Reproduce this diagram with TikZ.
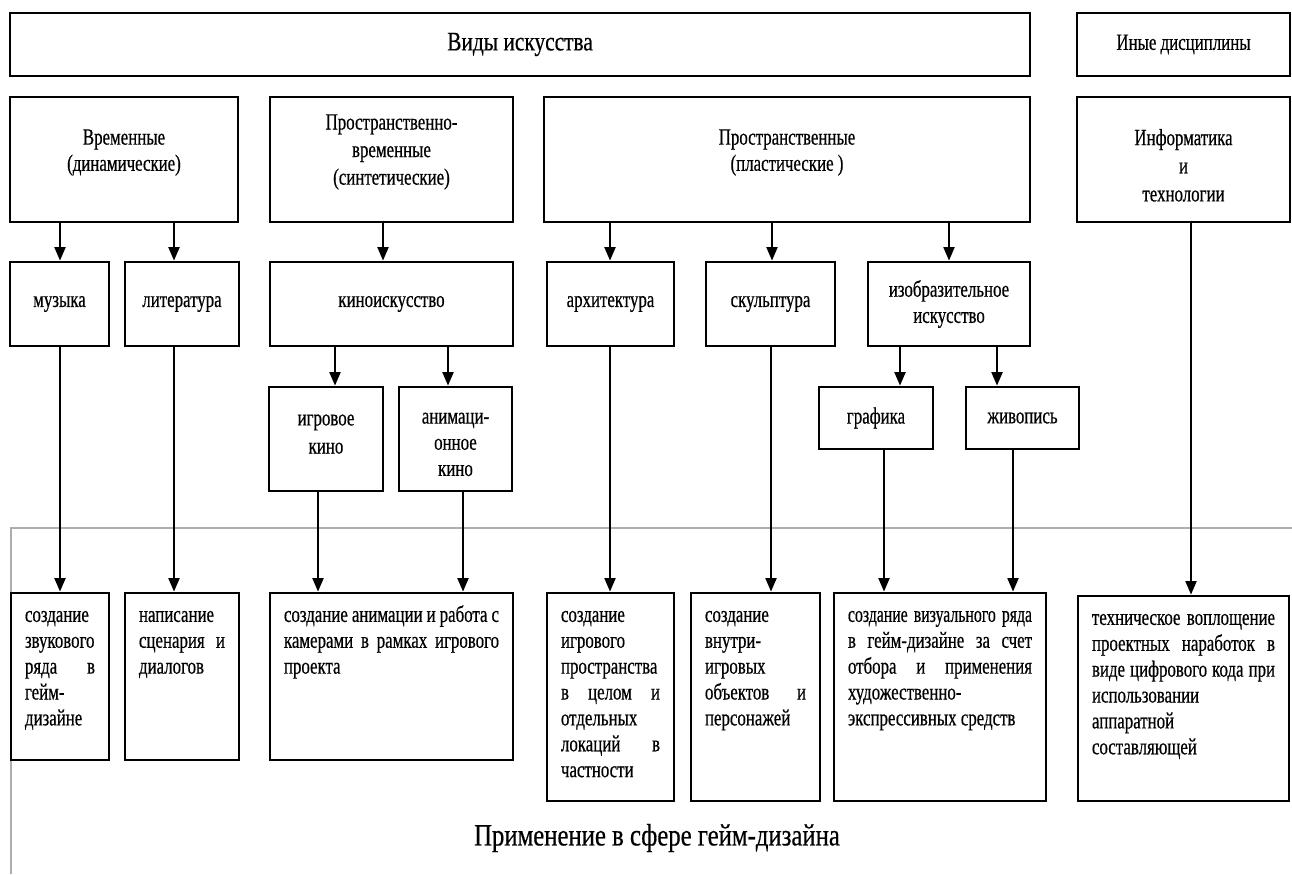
\documentclass[tikz,border=0pt]{standalone}
\usepackage{fontspec}
\setmainfont{Liberation Serif}[FakeStretch=0.727, FakeBold=0.5]
\newfontfamily\headfont{Liberation Serif}[FakeStretch=0.8, FakeBold=0.5]
\usepackage{tikz}
\usetikzlibrary{arrows.meta}

% text of the lower boxes: width, height, text
\newcommand{\apptext}[3]{\parbox[t][#2][t]{#1}{\strut #3}}

\begin{document}
\begin{tikzpicture}[x=0.025cm, y=-0.025cm,
    blk/.style={draw, line width=1.8pt, align=center, inner sep=0pt, font=\fontsize{16.5}{18.6}\selectfont},
    appbox/.style={draw, line width=1.8pt, inner xsep=0.35cm, inner ysep=0.27cm, font=\fontsize{16.5}{18.4}\selectfont},
    arr/.style={line width=1.8pt, -{Triangle[length=3.4mm, width=2.7mm]}}]
    \useasboundingbox (0,0) rectangle (1292,874);

    % Frame of the lower part
    \draw[black!32, line width=0.9pt] (1292,528) -- (11,528) -- (11,874);

    % Top row
    \node[blk, minimum width=25.5cm, minimum height=1.575cm, font=\headfont\fontsize{19}{22}\selectfont] (vid) at (520,44.5) {Виды искусства};
    \node[blk, minimum width=5.325cm, minimum height=1.575cm] (inye) at (1183.5,44.5) {Иные дисциплины};

    % Groups of arts
    \node[blk, minimum width=5.7cm, minimum height=3.125cm, text depth=0.47cm] (vrem) at (124,159.5) {Временные\\(динамические)};
    \node[blk, minimum width=6.075cm, minimum height=3.125cm, text depth=0.5cm, font=\fontsize{16.5}{19.6}\selectfont] (prvr) at (391.5,159.5) {Пространственно-\\временные\\(синтетические)};
    \node[blk, minimum width=12.15cm, minimum height=3.125cm, text depth=0.47cm] (prost) at (787,159.5) {Пространственные\\(пластические )};
    \node[blk, minimum width=5.325cm, minimum height=3.125cm, text height=2.1cm, font=\fontsize{16.5}{20}\selectfont] (inf) at (1183.5,159.5) {Информатика\\и\\технологии};

    % Kinds of art
    \node[blk, minimum width=2.475cm, minimum height=2.1cm] (muz) at (59.5,304) {музыка};
    \node[blk, minimum width=2.85cm, minimum height=2.1cm] (lit) at (182,304) {литература};
    \node[blk, minimum width=6.075cm, minimum height=2.1cm] (kino) at (391.5,304) {киноискусство};
    \node[blk, minimum width=3.175cm, minimum height=2.1cm] (arch) at (610.5,304) {архитектура};
    \node[blk, minimum width=3.225cm, minimum height=2.1cm] (skul) at (770.5,304) {скульптура};
    \node[blk, minimum width=4.05cm, minimum height=2.1cm] (izo) at (949,304) {изобразительное\\искусство};

    % Sub-kinds
    \node[blk, minimum width=2.85cm, minimum height=2.6cm, text depth=0.25cm, font=\fontsize{16.5}{20}\selectfont] (igr) at (326,439) {игровое\\кино};
    \node[blk, minimum width=2.825cm, minimum height=2.6cm, text height=1.85cm] (anim) at (455.5,439) {анимаци-\\онное\\кино};
    \node[blk, minimum width=2.85cm, minimum height=1.55cm] (graf) at (876,418) {графика};
    \node[blk, minimum width=2.825cm, minimum height=1.55cm] (zhiv) at (1022.5,418) {живопись};

    % Application in game design
    \node[appbox] (b1) at (60,676.5) {\apptext{1.75cm}{3.635cm}{создание\linebreak звукового\linebreak ряда в\linebreak гейм-\linebreak дизайне}};
    \node[appbox] (b2) at (182,676.5) {\apptext{2.15cm}{3.635cm}{написание\linebreak сценария и\linebreak диалогов}};
    \node[appbox] (b3) at (391.5,676.5) {\apptext{5.375cm}{3.635cm}{создание анимации и работа с\linebreak камерами в рамках игрового\linebreak проекта}};
    \node[appbox] (b4) at (610.5,697) {\apptext{2.475cm}{4.66cm}{создание\linebreak игрового\linebreak пространства\linebreak в целом и\linebreak отдельных\linebreak локаций в\linebreak частности}};
    \node[appbox] (b5) at (755.5,697) {\apptext{2.525cm}{4.66cm}{создание\linebreak внутри-\linebreak игровых\linebreak объектов и\linebreak персонажей}};
    \node[appbox] (b6) at (940,697) {\apptext{4.6cm}{4.66cm}{{\addfontfeature{FakeStretch=0.68}\spaceskip=0.2em plus 1em minus 0.05em создание визуального ряда}\linebreak в гейм-дизайне за счет\linebreak отбора и применения\linebreak художественно-\linebreak экспрессивных средств}};
    \node[appbox] (b7) at (1183.5,698.5) {\apptext{4.575cm}{4.585cm}{техническое воплощение\linebreak проектных наработок в\linebreak виде цифрового кода при\linebreak использовании\linebreak аппаратной\linebreak составляющей}};

    \node[font=\headfont\fontsize{22}{26}\selectfont] (app) at (657,838) {Применение в сфере гейм-дизайна};

    % Arrows
    \foreach \a/\b/\x in {vrem/muz/60, vrem/lit/174, prvr/kino/383, prost/arch/610, prost/skul/772, prost/izo/949,
        kino/igr/335, kino/anim/448, izo/graf/900, izo/zhiv/997,
        muz/b1/60, lit/b2/174, igr/b3/318, anim/b3/463, arch/b4/610, skul/b5/771,
        graf/b6/884, zhiv/b6/1013, inf/b7/1191}
        \draw[arr] (\a.south -| \x,0) -- (\b.north -| \x,0);
\end{tikzpicture}
\end{document}
